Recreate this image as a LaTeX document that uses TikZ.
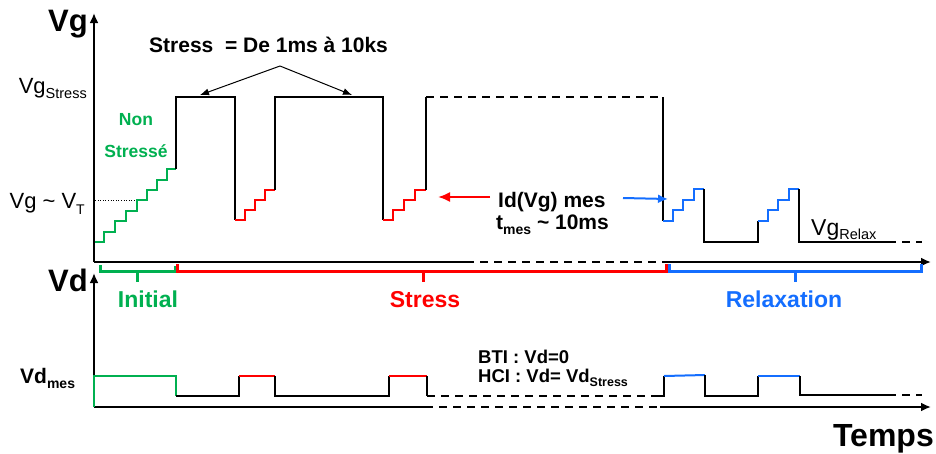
\documentclass[tikz,border=0pt]{standalone}
\usepackage{fontspec}
\setmainfont{Liberation Sans}
\usetikzlibrary{arrows.meta}
\definecolor{cgreen}{RGB}{0,176,80}
\definecolor{cred}{RGB}{255,0,0}
\definecolor{cblue}{RGB}{20,110,255}
\newcommand\fs[1]{\fontsize{#1}{#1}\selectfont}
\newcommand\lowsub[3]{\raisebox{-#2pt}{\fs{#3}#1}}
\begin{document}
\begin{tikzpicture}[x=1pt,y=-1pt,
  axis/.style={line width=2pt,black},
  axarrow/.style={axis,-{Latex[length=10pt,width=9pt]}},
  trace/.style={line width=2pt,line join=miter},
  dashtrace/.style={line width=2pt,dash pattern=on 8pt off 6pt},
  bracket/.style={line width=3pt},
  lbl/.style={inner sep=0pt,anchor=base west},
  thinarrow/.style={line width=1pt,-{Latex[length=9pt,width=7pt]}},
  bigarrow/.style={line width=2pt,-{Latex[length=12pt,width=10pt]}}]
\useasboundingbox (0,0) rectangle (936,453);

% ---------- axes ----------
\coordinate (o1) at (94,262);
\coordinate (vgtop) at (94,13);
\coordinate (a1) at (466,262);
\coordinate (a2) at (665,262);
\coordinate (a3) at (931,262);
\draw[axarrow] (o1) -- (vgtop);
\draw[axis] (o1) -- (a1);
\draw[axis,dash pattern=on 8pt off 6pt] (a1) -- (a2);
\draw[axarrow] (a2) -- (a3);

\coordinate (o2) at (94,407);
\coordinate (vdtop) at (94,273);
\coordinate (b1) at (425,407);
\coordinate (b2) at (660,407);
\coordinate (b3) at (931,407);
\draw[axarrow] (o2) -- (vdtop);
\draw[axis] (o2) -- (b1);
\draw[axis,dash pattern=on 8pt off 6pt] (b1) -- (b2);
\draw[axarrow] (b2) -- (b3);

% ---------- axis labels ----------
\node[inner sep=0pt,anchor=base east,font=\fs{31}\bfseries] (vg) at (88,31) {Vg};
\node[inner sep=0pt,anchor=base east,font=\fs{31}\bfseries] (vd) at (88,291) {Vd};
\node[inner sep=0pt,anchor=base east,font=\fs{32}\bfseries] (temps) at (934,446) {Temps};

\node[inner sep=0pt,anchor=base east,font=\fs{22}] (vgs) at (87,93) {Vg\lowsub{Stress}{5}{14.5}};
\node[inner sep=0pt,anchor=base east,font=\fs{22}] (vgvt) at (85,208) {Vg \char"007E\ V\lowsub{T}{6}{14}};
\node[inner sep=0pt,anchor=base west,font=\fs{21}\bfseries] (vdm) at (20,383) {Vd\lowsub{mes}{5}{14}};

% ---------- Vg waveform ----------
\draw[cgreen,trace] (95,242) -| (104,231.6) -| (115,221.2) -| (126,210.8) -| (137,200.4)
   -| (147,190) -| (157,179.6) -| (167,169.2) -- (176,169.2);
\draw[trace] (176,169.2) -- (176,97) -- (235,97) -- (235,220);
\draw[cred,trace] (235,220) -| (245,210) -| (255,200) -| (265,190) -- (275,190);
\draw[trace] (275,190) -- (275,97) -- (383,97) -- (383,220);
\draw[cred,trace] (383,220) -| (393,210) -| (404,200) -| (415,190) -- (426,190);
\draw[trace] (426,190) -- (426,97);
\draw[dashtrace] (426,97) -- (663,97);
\draw[trace] (663,97) -- (663,221);
\draw[cblue,trace] (663,221) -| (673,210) -| (683,200) -| (694,189) -- (704,189);
\draw[trace] (704,189) -- (704,242) -- (758,242) -- (758,221);
\draw[cblue,trace] (758,221) -| (768,210) -| (778,200) -| (789,189) -- (799,189);
\draw[trace] (799,189) -- (799,242) -- (888,242);
\draw[dashtrace] (888,242) -- (922,242);

\draw[line width=1pt,dash pattern=on 1pt off 1.6pt] (95,200.4) -- (136,200.4);

% ---------- Vd waveform ----------
\draw[cgreen,trace] (94,407) -- (94,376) -- (176,376) -- (176,396);
\draw[trace] (176,396) -- (239,396) -- (239,376);
\draw[cred,trace] (239,376) -- (275,376);
\draw[trace] (275,376) -- (275,396) -- (389,396) -- (389,376);
\draw[cred,trace] (389,376) -- (427,376);
\draw[trace] (427,376) -- (427,396);
\draw[dashtrace] (427,396) -- (657,396);
\draw[trace] (657,396) -- (664,396) -- (664,376);
\draw[cblue,trace] (664,376) -- (705,375);
\draw[trace] (705,375) -- (705,396) -- (758,396) -- (758,376);
\draw[cblue,trace] (758,376) -- (800,376);
\draw[trace] (800,376) -- (800,395) -- (888,395);
\draw[dashtrace] (888,395) -- (922,395);

% ---------- phase brackets ----------
\draw[cgreen,bracket] (100,265) -- (100,271) -- (175,271) -- (175,266);
\draw[cgreen,bracket] (137,271) -- (137,282);
\draw[cred,bracket] (177,264) -- (177,271) -- (666,271) -- (666,264);
\draw[cred,bracket] (423,271) -- (423,282);
\draw[cblue,bracket] (669,264) -- (669,271) -- (921,271) -- (921,264);
\draw[cblue,bracket] (795,271) -- (795,282);

\node[inner sep=0pt,anchor=base,font=\fs{23}\bfseries,text=cgreen] (init) at (148,307) {Initial};
\node[inner sep=0pt,anchor=base,font=\fs{23}\bfseries,text=cred] (str) at (425,307) {Stress};
\node[inner sep=0pt,anchor=base,font=\fs{23}\bfseries,text=cblue] (rel) at (784,307) {Relaxation};

% ---------- annotations ----------
\node[inner sep=0pt,anchor=base,font=\fs{17.5}\bfseries,text=cgreen] (non) at (136,125) {Non};
\node[inner sep=0pt,anchor=base,font=\fs{17.5}\bfseries,text=cgreen] (nst) at (136,157) {Stressé};

\node[lbl,font=\fs{21}\bfseries] (stt) at (149,52) {Stress\ \ = De 1ms à 10ks};
\coordinate (apex) at (280,66);
\coordinate (tipL) at (200,95);
\coordinate (tipR) at (352,95);
\draw[thinarrow] (apex) -- (tipL);
\draw[thinarrow] (apex) -- (tipR);

\node[lbl,font=\fs{21}\bfseries] (idvg) at (498,207) {Id(Vg) mes};
\node[lbl,font=\fs{21}\bfseries] (tmes) at (496,229) {t\lowsub{mes}{5}{14} \char"007E\ 10ms};
\coordinate (rs) at (490,197);
\coordinate (re) at (438,197);
\draw[cred,bigarrow] (rs) -- (re);
\coordinate (bs) at (623,198);
\coordinate (be) at (668,199);
\draw[cblue,line width=2pt,-{Latex[length=10pt,width=9pt]}] (bs) -- (be);

\node[lbl,font=\fs{23}] (vgr) at (811,235) {Vg\lowsub{Relax}{4}{14.5}};

\node[lbl,font=\fs{18.5}\bfseries] (bti) at (478,363) {BTI : Vd=0};
\node[lbl,font=\fs{18.5}\bfseries] (hci) at (478,382) {HCI : Vd= Vd\lowsub{Stress}{4}{12.5}};
\end{tikzpicture}
\end{document}
